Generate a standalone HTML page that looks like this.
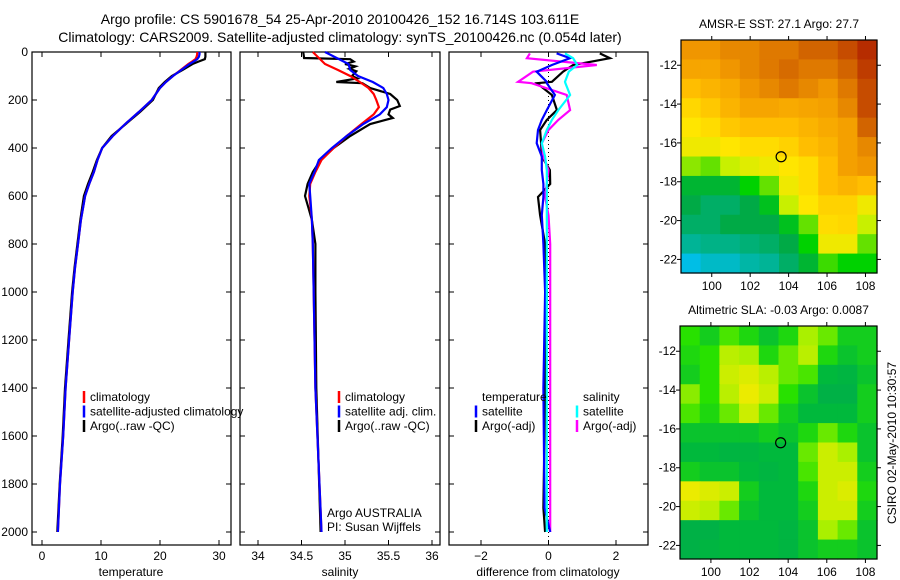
<!DOCTYPE html>
<html><head><meta charset="utf-8">
<style>
html,body{margin:0;padding:0;background:#fff;}
svg{display:block;font-family:"Liberation Sans",sans-serif;}
text{font-size:12px;fill:#000;}
</style></head>
<body>
<svg id="fig" width="900" height="580" viewBox="0 0 900 580">
<text x="340" y="24" text-anchor="middle" style="font-size:14px">Argo profile: CS 5901678_54 25-Apr-2010 20100426_152 16.714S 103.611E</text>
<text x="340" y="42" text-anchor="middle" style="font-size:14px">Climatology: CARS2009. Satellite-adjusted climatology: synTS_20100426.nc (0.054d later)</text>
<g id="layer"></g>
</svg>
<script>
// ---------- data ----------
const depthT = [0,10,20,30,40,50,75,100,125,150,200,250,300,350,400,450,500,550,600,700,800,900,1000,1200,1400,1600,1800,2000];
const tempClim = [26.3,26.3,26.2,26.0,25.4,24.8,23.5,22.2,21.0,20.0,18.6,16.4,14.1,12.0,10.2,9.4,8.8,8.0,7.3,6.6,6.1,5.6,5.2,4.6,4.0,3.6,3.05,2.7];
const tempSat = [26.7,26.7,26.6,26.3,25.7,25.0,23.6,22.2,21.0,20.0,18.6,16.4,14.1,12.0,10.2,9.4,8.8,8.0,7.3,6.6,6.1,5.6,5.2,4.6,4.0,3.6,3.05,2.7];
const tempArgo = [27.7,27.7,27.7,27.6,26.5,25.5,23.8,22.0,20.8,19.8,18.8,16.6,14.2,11.8,10.2,9.3,8.6,7.8,7.1,6.5,6.0,5.5,5.1,4.5,3.9,3.5,3.0,2.6];

const depthS = [0,50,75,100,125,150,175,200,230,260,300,350,400,450,500,550,600,700,800,1000,1400,2000];
const salClim = [34.63,34.77,34.92,35.06,35.17,35.27,35.33,35.36,35.39,35.33,35.19,35.02,34.87,34.73,34.66,34.6,34.59,34.62,34.63,34.64,34.66,34.73];
const salSat = [34.77,35.04,35.06,35.15,35.32,35.44,35.48,35.5,35.48,35.4,35.21,35.02,34.85,34.7,34.65,34.59,34.6,34.62,34.63,34.64,34.66,34.73];
const depthSA = [0,25,30,40,50,60,70,80,100,110,125,130,150,175,200,225,240,260,275,300,350,400,450,500,550,600,650,700,800,1000,1400,2000];
const salArgo = [34.52,34.53,35.06,35.1,35.0,35.12,35.05,35.13,35.08,35.14,34.9,35.2,35.29,35.52,35.6,35.63,35.52,35.5,35.55,35.29,35.06,34.87,34.72,34.63,34.57,34.54,34.58,34.62,34.66,34.66,34.67,34.72];

const diffDepth = [6,26,54,82,124,130,179,242,283,325,380,436,492,550,604,680,800,1000,1400,1900,2000];
const diffTSat = [0.24,0.64,0.1,-0.35,-0.05,-0.05,0.19,-0.05,-0.2,-0.31,-0.35,-0.2,-0.2,-0.15,-0.15,-0.2,-0.15,-0.1,-0.15,-0.12,0.05];
const diffTArgo = [1.52,1.82,0.73,0.43,0.1,-0.34,0.1,0.25,-0.05,-0.25,-0.22,-0.2,0.04,0.05,-0.31,-0.25,-0.1,-0.05,-0.1,-0.15,-0.1];
const diffSSat = [0.49,0.73,0.85,0.6,0.49,0.5,0.64,0.29,0.1,-0.05,-0.2,-0.1,-0.05,-0.05,-0.05,-0.05,-0.05,-0.05,-0.05,-0.05,-0.05];
const diffSArgo = [-0.55,-0.64,1.43,-0.46,-0.9,-0.5,0.54,0.64,0.29,0.0,-0.2,-0.15,0.0,-0.05,-0.1,0.0,0.05,0.05,0.05,0.05,0.05];

const tempTicks = [0,10,20,30];
const salTicks = [34,34.5,35,35.5,36];
const diffTicks = [-2,0,2];
const depthTicks = [0,200,400,600,800,1000,1200,1400,1600,1800,2000];

const sstGrid = [
[.78,.78,.8,.8,.82,.82,.85,.85,.88,.92],
[.75,.75,.78,.8,.82,.84,.82,.82,.85,.9],
[.7,.72,.74,.78,.8,.82,.8,.78,.82,.88],
[.65,.68,.72,.75,.75,.74,.75,.76,.8,.88],
[.62,.64,.68,.7,.7,.7,.72,.74,.76,.85],
[.6,.6,.62,.64,.64,.66,.7,.72,.76,.8],
[.52,.5,.55,.58,.6,.62,.64,.7,.76,.78],
[.4,.4,.4,.45,.5,.6,.64,.7,.72,.7],
[.38,.36,.36,.38,.42,.55,.62,.66,.66,.6],
[.36,.36,.38,.38,.38,.42,.5,.64,.65,.55],
[.33,.34,.34,.35,.36,.38,.45,.6,.6,.5],
[.28,.3,.3,.32,.33,.36,.4,.48,.45,.45]];
const slaGrid = [
[.5,.4,.55,.45,.35,.45,.7,.6,.4,.4],
[.45,.5,.75,.7,.45,.6,.75,.45,.35,.4],
[.4,.5,.8,.85,.75,.6,.55,.3,.25,.35],
[.65,.5,.75,.9,.8,.5,.35,.2,.2,.4],
[.55,.45,.6,.8,.6,.4,.3,.3,.3,.4],
[.35,.35,.35,.35,.4,.35,.45,.6,.45,.35],
[.3,.3,.25,.25,.3,.3,.6,.8,.7,.35],
[.4,.35,.35,.3,.25,.3,.55,.8,.8,.4],
[.9,.85,.8,.4,.3,.3,.45,.8,.85,.45],
[.8,.75,.6,.35,.3,.3,.4,.8,.8,.4],
[.2,.2,.3,.3,.3,.25,.35,.7,.6,.35],
[.2,.25,.3,.3,.3,.25,.35,.4,.4,.35]];
const lonTicks = [100,102,104,106,108];
const latTicks = [-12,-14,-16,-18,-20,-22];
const argoLon = 103.611, argoLat = -16.714;

// ---------- drawing ----------
const NS='http://www.w3.org/2000/svg';
const L=document.getElementById('layer');
function mk(tag,at,parent){const e=document.createElementNS(NS,tag);for(const k in at)e.setAttribute(k,at[k]);(parent||L).appendChild(e);return e;}
function txt(x,y,s,anchor,parent){const t=mk('text',{x:x,y:y,'text-anchor':anchor||'start'},parent);t.textContent=s;return t;}

const yP = p => 52 + p*0.24;
const xT = t => 42 + t*5.9;
const xS = s => 258 + (s-34)*87;
const xD = d => 548.5 + d*33.75;
const panels=[{x0:32,x1:231,name:'temperature-panel'},{x0:240,x1:440,name:'salinity-panel'},{x0:449,x1:648,name:'difference-panel'}];
const topY=52,botY=545;

panels.forEach((p,i)=>{
  const r=mk('rect',{x:p.x0,y:topY,width:p.x1-p.x0,height:botY-topY,fill:'none',stroke:'#000','stroke-width':1.2});
  
  
  depthTicks.forEach(d=>{
    const y=yP(d);
    mk('line',{x1:p.x0,x2:p.x0+5,y1:y,y2:y,stroke:'#000'});
    mk('line',{x1:p.x1,x2:p.x1-5,y1:y,y2:y,stroke:'#000'});
    if(i===0){const t=txt(28,y+4,String(d),'end');
      
      }
  });
});
function xticks(arr,fx,fmt){arr.forEach(v=>{const x=fx(v);
  mk('line',{x1:x,x2:x,y1:botY,y2:botY-5,stroke:'#000'});mk('line',{x1:x,x2:x,y1:topY,y2:topY+5,stroke:'#000'});
  const t=txt(x,560,fmt(v),'middle');
  
  });}
xticks(tempTicks,xT,String);xticks(salTicks,xS,String);
xticks(diffTicks,xD,v=>v<0?'\u2212'+(-v):String(v));
[['temperature',131],['salinity',340],['difference from climatology',548]].forEach(a=>{
  const t=txt(a[1],576,a[0],'middle');
  
  });

mk('line',{x1:xD(0),x2:xD(0),y1:topY,y2:botY,stroke:'#000','stroke-dasharray':'1,3'});

function series(depths,vals,fx,color,name){
  const pts=depths.map((d,i)=>fx(vals[i]).toFixed(1)+','+yP(d).toFixed(1)).join(' ');
  const pl=mk('polyline',{points:pts,fill:'none',stroke:color,'stroke-width':2.2,'stroke-linejoin':'miter'});
  
  
}
series(depthT,tempArgo,xT,'#000','temp-argo-line');
series(depthT,tempClim,xT,'#f00','temp-climatology-line');
series(depthT,tempSat,xT,'#00f','temp-satellite-line');
series(depthSA,salArgo,xS,'#000','sal-argo-line');
series(depthS,salClim,xS,'#f00','sal-climatology-line');
series(depthS,salSat,xS,'#00f','sal-satellite-line');
series(diffDepth,diffTArgo,xD,'#000','diff-temp-argo-line');
series(diffDepth,diffSArgo,xD,'#f0f','diff-sal-argo-line');
series(diffDepth,diffTSat,xD,'#00f','diff-temp-satellite-line');
series(diffDepth,diffSSat,xD,'#0ff','diff-sal-satellite-line');

function legend(x,y,items,name){items.forEach((it,i)=>{const yy=y+i*14.5;
  if(it[1]){const m=mk('line',{x1:x,x2:x,y1:yy-6,y2:yy+6,stroke:it[1],'stroke-width':2.5});
    
    }
  const t=txt(x+6,yy+4,it[0]);
  
  });}
legend(84,397,[['climatology','#f00'],['satellite-adjusted climatology','#00f'],['Argo(..raw -QC)','#000']],'temp-legend');
legend(339,397,[['climatology','#f00'],['satellite adj. clim.','#00f'],['Argo(..raw -QC)','#000']],'sal-legend');
legend(476,397,[['temperature',null],['satellite','#00f'],['Argo(-adj)','#000']],'diff-temp-legend');
legend(577,397,[['salinity',null],['satellite','#0ff'],['Argo(-adj)','#f0f']],'diff-sal-legend');
let t1=txt(327,517,'Argo AUSTRALIA');


let t2=txt(327,531,'PI: Susan Wijffels');



function interp(s,v){for(let i=1;i<s.length;i++){if(v<=s[i][0]){const a=s[i-1],b=s[i],f=(v-a[0])/(b[0]-a[0]);
  return 'rgb('+a[1].map((c,k)=>Math.round(c+(b[1][k]-c)*f)).join(',')+')';}}return 'rgb(150,0,0)';}
function cmapSST(v){const s=[[0,[0,80,255]],[.28,[0,190,230]],[.33,[0,180,150]],[.38,[0,170,70]],[.45,[0,210,0]],[.55,[200,240,0]],[.62,[255,230,0]],[.7,[255,190,0]],[.78,[240,150,0]],[.85,[210,100,0]],[.95,[170,20,0]],[1,[150,0,0]]];return interp(s,v);}
function cmapSLA(v){const s=[[0,[0,160,90]],[.3,[0,185,60]],[.5,[40,225,0]],[.7,[170,240,0]],[.9,[235,235,0]],[1,[250,220,0]]];return interp(s,v);}

function drawMap(m){
  const lonL=98.4,lonR=108.6,latT=-10.7,latB=-22.7;
  const fx=lon=>m.x0+(lon-lonL)/(lonR-lonL)*(m.x1-m.x0);
  const fy=lat=>m.y0+(latT-lat)/(latT-latB)*(m.y1-m.y0);
  const g=mk('g',{});
  
  
  const rows=m.grid.length,cols=m.grid[0].length;
  const cw=(m.x1-m.x0)/cols,ch=(m.y1-m.y0)/rows;
  m.grid.forEach((row,r)=>row.forEach((v,c)=>{
    const cell=mk('rect',{x:(m.x0+c*cw).toFixed(2),y:(m.y0+r*ch).toFixed(2),width:(cw+0.6).toFixed(2),height:(ch+0.6).toFixed(2),fill:m.cmap(v)},g);
    
    
  }));
  mk('rect',{x:m.x0,y:m.y0,width:m.x1-m.x0,height:m.y1-m.y0,fill:'none',stroke:'#000','stroke-width':1.2},g);
  lonTicks.forEach(lo=>{const x=fx(lo);
    mk('line',{x1:x,x2:x,y1:m.y1,y2:m.y1+4,stroke:'#000'},g);mk('line',{x1:x,x2:x,y1:m.y0,y2:m.y0-4,stroke:'#000'},g);
    const t=txt(x,m.y1+17,String(lo),'middle',g);
    
    });
  latTicks.forEach(la=>{const y=fy(la);
    mk('line',{x1:m.x0,x2:m.x0-4,y1:y,y2:y,stroke:'#000'},g);mk('line',{x1:m.x1,x2:m.x1+4,y1:y,y2:y,stroke:'#000'},g);
    const t=txt(m.x0-4,y+4,String(la),'end',g);
    
    });
  const c=mk('circle',{cx:fx(argoLon),cy:fy(argoLat),r:5,fill:'none',stroke:'#000','stroke-width':1.2},g);
  
  
  const t=txt((m.x0+m.x1)/2,m.y0-12,m.title,'middle',g);
  
  
}
drawMap({x0:681,x1:877,y0:40,y1:273,grid:sstGrid,cmap:cmapSST,name:'sst-map',title:'AMSR-E SST: 27.1 Argo: 27.7'});
drawMap({x0:680,x1:877,y0:326,y1:559,grid:slaGrid,cmap:cmapSLA,name:'sla-map',title:'Altimetric SLA: -0.03 Argo: 0.0087'});
const side=txt(0,0,'CSIRO 02-May-2010 10:30:57','middle');
side.setAttribute('transform','translate(896,443) rotate(-90)');


</script>
</body></html>
